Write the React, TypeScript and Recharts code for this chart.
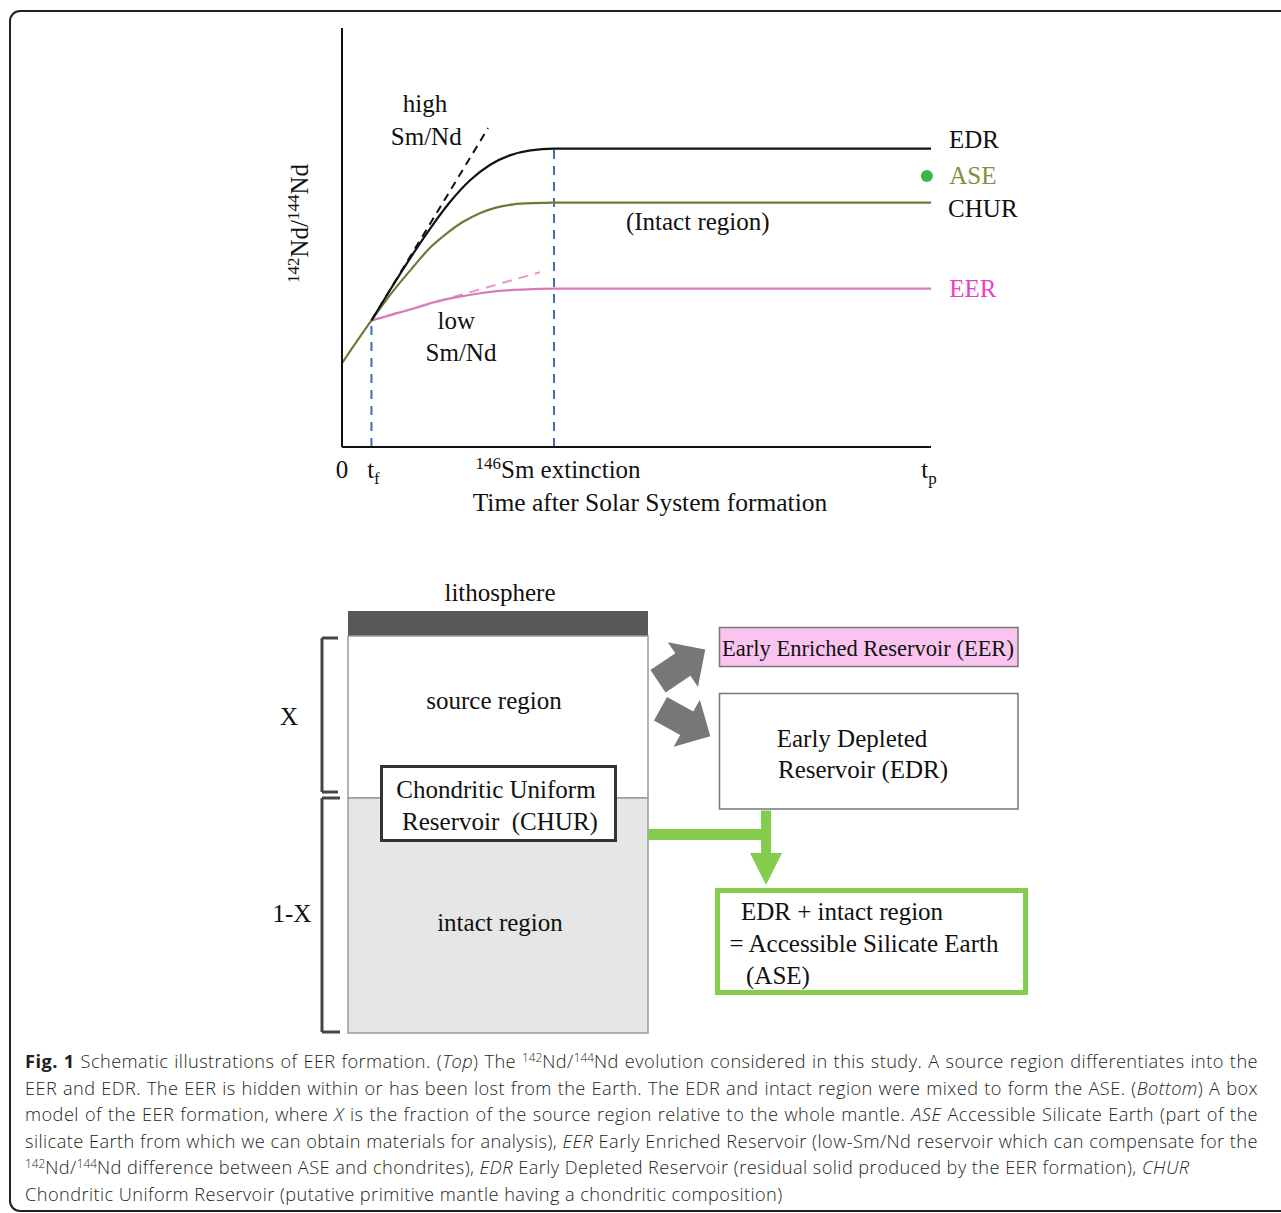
import React from 'react';
import { ComposedChart, Line, Scatter, XAxis, YAxis, ReferenceLine, ReferenceDot, ReferenceArea } from 'recharts';

const SERIF = '"Liberation Serif", "Times New Roman", serif';
const SANS = '"Open Sans", "Noto Sans", sans-serif';

// time after Solar System formation, arbitrary units (0 → tp)
const T_F = 5;
const T_EXT = 36;
const T_P = 100;
const timeTicks = [0, T_F, T_EXT, T_P];

// 142Nd/144Nd, arbitrary units
const churCurve = [
  { t: 0, v: 20 }, { t: 5, v: 30.2 }, { t: 8.5, v: 36.9 }, { t: 12.1, v: 43 },
  { t: 14.9, v: 47.5 }, { t: 17.8, v: 51 }, { t: 20.5, v: 53.7 }, { t: 23.4, v: 55.8 },
  { t: 26.3, v: 57.2 }, { t: 29.1, v: 57.9 }, { t: 32.4, v: 58.2 }, { t: 36, v: 58.3 },
  { t: 100, v: 58.3 },
];
const edrCurve = [
  { t: 5, v: 30.2 }, { t: 8, v: 37.1 }, { t: 11.5, v: 44.9 }, { t: 15, v: 52.2 },
  { t: 18.3, v: 58.4 }, { t: 21.7, v: 63.6 }, { t: 25.1, v: 67.3 }, { t: 28.5, v: 69.6 },
  { t: 32, v: 70.8 }, { t: 36, v: 71.2 }, { t: 100, v: 71.2 },
];
const eerCurve = [
  { t: 5, v: 30.2 }, { t: 8.5, v: 31.6 }, { t: 12, v: 33 }, { t: 15, v: 34.3 },
  { t: 17.8, v: 35.3 }, { t: 20.5, v: 36 }, { t: 23.4, v: 36.7 }, { t: 26.3, v: 37.2 },
  { t: 29.1, v: 37.5 }, { t: 32.4, v: 37.7 }, { t: 36, v: 37.8 }, { t: 100, v: 37.8 },
];
const highSmNd = [{ t: 5, v: 30.2 }, { t: 24.8, v: 76.1 }];
const lowSmNd = [{ t: 5, v: 30.2 }, { t: 33.6, v: 41.7 }];
const asePoint = { t: 99.3, v: 64.7 };

const curveLabels = [
  { t: 14.1, v: 82.0, text: 'high', color: '#111' },
  { t: 14.3, v: 74.3, text: 'Sm/Nd', color: '#111' },
  { t: 107.3, v: 73.4, text: 'EDR', color: '#111' },
  { t: 107.1, v: 65.0, text: 'ASE', color: '#7f913f' },
  { t: 108.8, v: 57.0, text: 'CHUR', color: '#111' },
  { t: 60.4, v: 53.9, text: '(Intact region)', color: '#111' },
  { t: 107.1, v: 37.8, text: 'EER', color: '#ea3ec3' },
  { t: 19.4, v: 30.3, text: 'low', color: '#111' },
  { t: 20.2, v: 22.7, text: 'Sm/Nd', color: '#111' },
];

// box model (diagram units = page pixels)
const boxes = [
  { id: 'litho', x1: 348, x2: 648, y1: 611, y2: 636, fill: '#58585a', stroke: 'none', sw: 0 },
  { id: 'source', x1: 348, x2: 648, y1: 636, y2: 798, fill: '#ffffff', stroke: '#9a9a9a', sw: 1.5 },
  { id: 'intact', x1: 348, x2: 648, y1: 798, y2: 1033, fill: '#e6e6e6', stroke: '#9a9a9a', sw: 1.5 },
  { id: 'chur', x1: 381.5, x2: 615.5, y1: 766.5, y2: 840.5, fill: '#ffffff', stroke: '#333333', sw: 3 },
  { id: 'eer', x1: 719.5, x2: 1018, y1: 627.5, y2: 666.5, fill: '#f9c5ef', stroke: '#777777', sw: 1.5 },
  { id: 'edr', x1: 719.5, x2: 1018, y1: 693.5, y2: 809, fill: '#ffffff', stroke: '#777777', sw: 1.5 },
  { id: 'ase', x1: 717.5, x2: 1025.5, y1: 890.5, y2: 992.5, fill: '#ffffff', stroke: '#84cc4c', sw: 5 },
  { id: 'mixH', x1: 648, x2: 771, y1: 829, y2: 840, fill: '#84cc4c', stroke: 'none', sw: 0 },
  { id: 'mixV', x1: 761, x2: 771, y1: 810.5, y2: 854, fill: '#84cc4c', stroke: 'none', sw: 0 },
];

const boxTexts = [
  { x: 500, y: 592, text: 'lithosphere', size: 25 },
  { x: 494, y: 700, text: 'source region', size: 25 },
  { x: 496, y: 789, text: 'Chondritic Uniform', size: 25 },
  { x: 500, y: 821, text: 'Reservoir\u00a0\u00a0(CHUR)', size: 25 },
  { x: 500, y: 922, text: 'intact region', size: 25 },
  { x: 289, y: 716, text: 'X', size: 25 },
  { x: 292, y: 913, text: '1-X', size: 25 },
  { x: 868, y: 648, text: 'Early Enriched Reservoir (EER)', size: 22.5 },
  { x: 852, y: 738, text: 'Early Depleted', size: 25 },
  { x: 863, y: 769, text: 'Reservoir (EDR)', size: 25 },
  { x: 842, y: 911, text: 'EDR + intact region', size: 25 },
  { x: 864, y: 943, text: '= Accessible Silicate Earth', size: 25 },
  { x: 778, y: 975, text: '(ASE)', size: 25 },
];

const brackets = [
  { x: 322, top: 638, bottom: 792, tip: 338 },
  { x: 322, top: 798, bottom: 1032, tip: 340 },
];

const differentiation = [
  { x: 658, y: 681.3, angle: -34 },
  { x: 660.5, y: 708.7, angle: 29 },
];
const mixingHead = [{ x: 766, y: 853 }];

const TimeTick = (props: any) => {
  const { x, y, payload } = props;
  const v = payload.value;
  let content: React.ReactNode = '0';
  let dx = 0;
  if (v === T_F) { dx = 2; content = <>t<tspan dy={6} fontSize={17}>f</tspan></>; }
  if (v === T_P) { dx = -2; content = <>t<tspan dy={6} fontSize={17}>p</tspan></>; }
  if (v === T_EXT) {
    dx = 4;
    content = <><tspan dy={-9} fontSize={17}>146</tspan><tspan dy={9}>Sm extinction</tspan></>;
  }
  return (
    <text x={x + dx} y={y + 23} textAnchor="middle" fontFamily={SERIF} fontSize={25} fill="#111">
      {content}
    </text>
  );
};

const XTitle = (props: any) => {
  const vb = props.viewBox;
  return (
    <text x={vb.x + vb.width / 2 + 13.5} y={vb.y + 64} textAnchor="middle" fontFamily={SERIF} fontSize={25.5} fill="#111">
      Time after Solar System formation
    </text>
  );
};

const YTitle = (props: any) => {
  const vb = props.viewBox;
  const x = vb.x + vb.width - 34;
  const y = vb.y + vb.height / 2 - 14;
  return (
    <text x={x} y={y} transform={`rotate(-90, ${x}, ${y})`} textAnchor="middle" fontFamily={SERIF} fontSize={25} fill="#111">
      <tspan dy={-9} fontSize={17}>142</tspan>
      <tspan dy={9}>Nd/</tspan>
      <tspan dy={-9} fontSize={17}>144</tspan>
      <tspan dy={9}>Nd</tspan>
    </text>
  );
};

const renderArrow = (props: any) => {
  const { cx, cy, payload } = props;
  const pts = [[0, -13.5], [30, -13.5], [30, -27], [57, 0], [30, 27], [30, 13.5], [0, 13.5]]
    .map(p => p.join(',')).join(' ');
  return <polygon points={pts} fill="#777777" transform={`translate(${cx}, ${cy}) rotate(${payload.angle})`} />;
};

const renderHead = (props: any) => {
  const { cx, cy } = props;
  return <polygon points={`${cx - 16},${cy} ${cx + 16},${cy} ${cx},${cy + 32}`} fill="#84cc4c" />;
};

function EvolutionChart() {
  return (
    <ComposedChart width={1281} height={540} margin={{ top: 28, right: 350, bottom: 33, left: 282 }}>
      <XAxis
        dataKey="t"
        type="number"
        domain={[0, T_P]}
        ticks={timeTicks}
        interval={0}
        tick={TimeTick}
        tickLine={false}
        axisLine={{ stroke: '#111', strokeWidth: 2 }}
        height={60}
        allowDataOverflow
        label={XTitle}
      />
      <YAxis
        dataKey="v"
        type="number"
        domain={[0, 100]}
        tick={false}
        tickLine={false}
        axisLine={{ stroke: '#111', strokeWidth: 2 }}
        width={60}
        allowDataOverflow
        label={YTitle}
      />
      <ReferenceLine segment={[{ x: T_F, y: 0 }, { x: T_F, y: 30.2 }]} stroke="#3d6db4" strokeWidth={2} strokeDasharray="9 7" />
      <ReferenceLine segment={[{ x: T_EXT, y: 0 }, { x: T_EXT, y: 71.2 }]} stroke="#3d6db4" strokeWidth={2} strokeDasharray="9 7" />
      <Line data={highSmNd} dataKey="v" type="linear" stroke="#111" strokeWidth={2} strokeDasharray="8 6" dot={false} activeDot={false} isAnimationActive={false} />
      <Line data={lowSmNd} dataKey="v" type="linear" stroke="#e396cf" strokeWidth={2} strokeDasharray="10 7" dot={false} activeDot={false} isAnimationActive={false} />
      <Line data={eerCurve} dataKey="v" type="monotone" stroke="#d77cba" strokeWidth={2.2} dot={false} activeDot={false} isAnimationActive={false} />
      <Line data={churCurve} dataKey="v" type="monotone" stroke="#6d7b3a" strokeWidth={2.2} dot={false} activeDot={false} isAnimationActive={false} />
      <Line data={edrCurve} dataKey="v" type="monotone" stroke="#111" strokeWidth={2.2} dot={false} activeDot={false} isAnimationActive={false} />
      <ReferenceDot x={asePoint.t} y={asePoint.v} r={6} fill="#3cb44b" stroke="none" ifOverflow="visible" />
      {curveLabels.map((l, i) => (
        <ReferenceDot
          key={i}
          x={l.t}
          y={l.v}
          r={0}
          fill="none"
          stroke="none"
          ifOverflow="visible"
          label={{ value: l.text, position: 'center', fill: l.color, fontSize: 25, fontFamily: SERIF }}
        />
      ))}
    </ComposedChart>
  );
}

function BoxModel() {
  return (
    <ComposedChart width={1281} height={500} margin={{ top: 0, right: 0, bottom: 0, left: 0 }}>
      <XAxis dataKey="x" type="number" domain={[0, 1281]} hide />
      <YAxis dataKey="y" type="number" domain={[540, 1040]} reversed hide />
      {boxes.map(b => (
        <ReferenceArea key={b.id} x1={b.x1} x2={b.x2} y1={b.y1} y2={b.y2} fill={b.fill} fillOpacity={1} stroke={b.stroke} strokeWidth={b.sw} ifOverflow="visible" />
      ))}
      {brackets.map((b, i) => (
        <React.Fragment key={i}>
          <ReferenceLine segment={[{ x: b.x, y: b.top }, { x: b.x, y: b.bottom }]} stroke="#444" strokeWidth={3} />
          <ReferenceLine segment={[{ x: b.x, y: b.top }, { x: b.tip, y: b.top }]} stroke="#444" strokeWidth={3} />
          <ReferenceLine segment={[{ x: b.x, y: b.bottom }, { x: b.tip, y: b.bottom }]} stroke="#444" strokeWidth={3} />
        </React.Fragment>
      ))}
      <Scatter data={differentiation} shape={renderArrow} isAnimationActive={false} />
      <Scatter data={mixingHead} shape={renderHead} isAnimationActive={false} />
      {boxTexts.map((l, i) => (
        <ReferenceDot
          key={i}
          x={l.x}
          y={l.y}
          r={0}
          fill="none"
          stroke="none"
          ifOverflow="visible"
          label={{ value: l.text, position: 'center', fill: '#111', fontSize: l.size, fontFamily: SERIF }}
        />
      ))}
    </ComposedChart>
  );
}

const sup: React.CSSProperties = { fontSize: '0.65em', position: 'relative', top: '-0.55em', letterSpacing: 0 };
const lineStyle: React.CSSProperties = { height: 26.6, lineHeight: '26.6px', whiteSpace: 'nowrap' };
const fullLine: React.CSSProperties = { ...lineStyle, width: 1233, textAlign: 'justify', textAlignLast: 'justify' };

function Caption() {
  return (
    <div style={{ position: 'absolute', left: 25, top: 1048, fontFamily: SANS, fontSize: 18.2, letterSpacing: '0.44px', fontWeight: 300, color: '#231f20' }}>
      <div style={fullLine}>
        <b style={{ fontWeight: 700 }}>Fig. 1</b> Schematic illustrations of EER formation. (<i>Top</i>) The <span style={sup}>142</span>Nd/<span style={sup}>144</span>Nd evolution considered in this study. A source region differentiates into the
      </div>
      <div style={fullLine}>
        EER and EDR. The EER is hidden within or has been lost from the Earth. The EDR and intact region were mixed to form the ASE. (<i>Bottom</i>) A box
      </div>
      <div style={fullLine}>
        model of the EER formation, where <i>X</i> is the fraction of the source region relative to the whole mantle. <i>ASE</i> Accessible Silicate Earth (part of the
      </div>
      <div style={fullLine}>
        silicate Earth from which we can obtain materials for analysis), <i>EER</i> Early Enriched Reservoir (low-Sm/Nd reservoir which can compensate for the
      </div>
      <div style={lineStyle}>
        <span style={sup}>142</span>Nd/<span style={sup}>144</span>Nd difference between ASE and chondrites), <i>EDR</i> Early Depleted Reservoir (residual solid produced by the EER formation), <i>CHUR</i>
      </div>
      <div style={lineStyle}>
        Chondritic Uniform Reservoir (putative primitive mantle having a chondritic composition)
      </div>
    </div>
  );
}

export default function App() {
  return (
    <div style={{ position: 'absolute', left: 0, top: 0, width: 1281, height: 1213, overflow: 'hidden', background: '#fff' }}>
      <div style={{ position: 'absolute', left: 9, top: 10, width: 1300, height: 1202, border: '2px solid #222', borderRadius: 11, boxSizing: 'border-box' }} />
      <div style={{ position: 'absolute', left: 0, top: 0 }}>
        <EvolutionChart />
      </div>
      <div style={{ position: 'absolute', left: 0, top: 540 }}>
        <BoxModel />
      </div>
      <Caption />
    </div>
  );
}
